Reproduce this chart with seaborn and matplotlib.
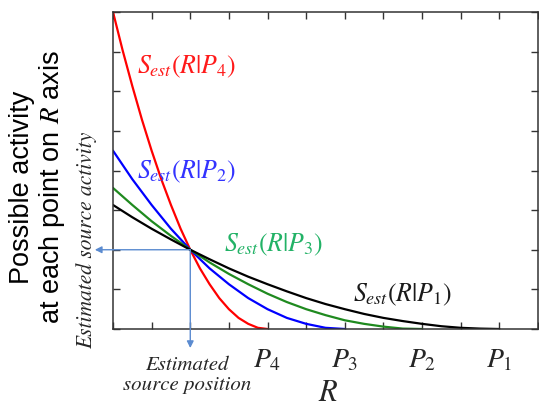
import matplotlib
matplotlib.use("Agg")
import matplotlib.pyplot as plt
import pandas as pd
import seaborn as sns

# ---- data ----
r_p4 = [0.0, 0.25, 0.5, 0.75, 1.0, 1.25, 1.5, 1.75, 2.0, 2.25, 2.5, 2.75, 3.0, 3.25, 3.5, 3.75, 4.0]
s_p4 = [8.0, 7.03, 6.13, 5.28, 4.5, 3.78, 3.13, 2.53, 2.0, 1.53, 1.13, 0.78, 0.5, 0.28, 0.13, 0.03, 0.0]

r_p3 = [0.0, 0.5, 1.0, 1.5, 2.0, 2.5, 3.0, 3.5, 4.0, 4.5, 5.0, 5.5, 6.0]
s_p3 = [4.5, 3.78, 3.13, 2.53, 2.0, 1.53, 1.13, 0.78, 0.5, 0.28, 0.13, 0.03, 0.0]

r_p2 = [0.0, 0.5, 1.0, 1.5, 2.0, 2.5, 3.0, 3.5, 4.0, 4.5, 5.0, 5.5, 6.0, 6.5, 7.0, 7.5, 8.0]
s_p2 = [3.56, 3.13, 2.72, 2.35, 2.0, 1.68, 1.39, 1.13, 0.89, 0.68, 0.5, 0.35, 0.22, 0.13, 0.06, 0.01, 0.0]

r_p1 = [0.0, 0.5, 1.0, 1.5, 2.0, 2.5, 3.0, 3.5, 4.0, 4.5, 5.0, 5.5, 6.0, 6.5, 7.0, 7.5, 8.0, 8.5, 9.0, 9.5, 10.0]
s_p1 = [3.13, 2.82, 2.53, 2.26, 2.0, 1.76, 1.53, 1.32, 1.13, 0.95, 0.78, 0.63, 0.5, 0.38, 0.28, 0.2, 0.13, 0.07, 0.03, 0.01, 0.0]

tick_positions = [4, 6, 8, 10]
tick_labels = [r"$P_{\mathit{4}}$", r"$P_{\mathit{3}}$", r"$P_{\mathit{2}}$", r"$P_{\mathit{1}}$"]

curve_labels = [r"$S_{est}(R|P_4)$", r"$S_{est}(R|P_2)$", r"$S_{est}(R|P_3)$", r"$S_{est}(R|P_1)$"]
estimate = (2.0, 2.0)

# ---- style ----
sns.set_theme(style="ticks")
plt.rcParams["font.family"] = ["Liberation Sans", "DejaVu Sans"]
plt.rcParams["mathtext.fontset"] = "stix"

fig = plt.figure(figsize=(5.39, 4.09), dpi=100)
ax = fig.add_axes([113 / 539, 1 - 329 / 409, 425 / 539, 317 / 409])

series = [
    (r_p4, s_p4, "#ff0000"),
    (r_p3, s_p3, "#0000ff"),
    (r_p2, s_p2, "#1f8a1f"),
    (r_p1, s_p1, "#000000"),
]
for xs, ys, col in series:
    df = pd.DataFrame({"R": xs, "S": ys})
    sns.lineplot(data=df, x="R", y="S", color=col, linewidth=1.6, ax=ax, sort=False)

ax.set_xlim(0, 11)
ax.set_ylim(0, 8)
ax.set_xticks(range(12))
ax.set_xticklabels(["" if i not in tick_positions else tick_labels[tick_positions.index(i)] for i in range(12)],
                   fontsize=20)
ax.set_yticks(range(9))
ax.set_yticklabels([])
ax.tick_params(direction="in", top=True, right=True, length=5, width=1, color="#333333", pad=13)
ax.tick_params(axis="y", left=True)
for sp in ax.spines.values():
    sp.set_visible(True)
    sp.set_color("#333333")
    sp.set_linewidth(1.1)
ax.set_xlabel("")
ax.set_ylabel("")

# curve labels
fs_lab = 18.5
ax.text(0.62, 6.62, curve_labels[0], color="#ff1a1a", fontsize=fs_lab, va="center", ha="left")
ax.text(0.62, 3.96, curve_labels[1], color="#3333ff", fontsize=fs_lab, va="center", ha="left")
ax.text(2.88, 2.12, curve_labels[2], color="#22b266", fontsize=fs_lab, va="center", ha="left")
ax.text(6.22, 0.86, curve_labels[3], color="#1a1a1a", fontsize=fs_lab, va="center", ha="left")

# arrows
arrow_col = "#5b8bd0"
ax.annotate("", xy=(-0.47, estimate[1]), xytext=estimate, annotation_clip=False,
            arrowprops=dict(arrowstyle="-|>", color=arrow_col, lw=1.0, mutation_scale=10,
                            shrinkA=0, shrinkB=0))
ax.annotate("", xy=(estimate[0], -0.48), xytext=estimate, annotation_clip=False,
            arrowprops=dict(arrowstyle="-|>", color=arrow_col, lw=1.0, mutation_scale=10,
                            shrinkA=0, shrinkB=0))

# annotations outside axes
fig.text(87 / 539, 1 - 240 / 409, "Estimated source activity", rotation=90, fontsize=15.5,
         family="STIXGeneral", style="italic", ha="center", va="center")
fig.text(187 / 539, 1 - 375 / 409, "Estimated\nsource position", fontsize=15,
         family="STIXGeneral", style="italic", ha="center", va="center", linespacing=1.15)
fig.text(38 / 539, 1 - 187 / 409, "Possible activity\nat each point on $R$ axis", rotation=90,
         fontsize=19.5, ha="center", va="center", linespacing=1.1, color="black")
fig.text(328 / 539, 1 - 401 / 409, "R", fontsize=22, family="STIXGeneral", style="italic",
         ha="center", va="baseline")

fig.savefig("out.png", dpi=100)
